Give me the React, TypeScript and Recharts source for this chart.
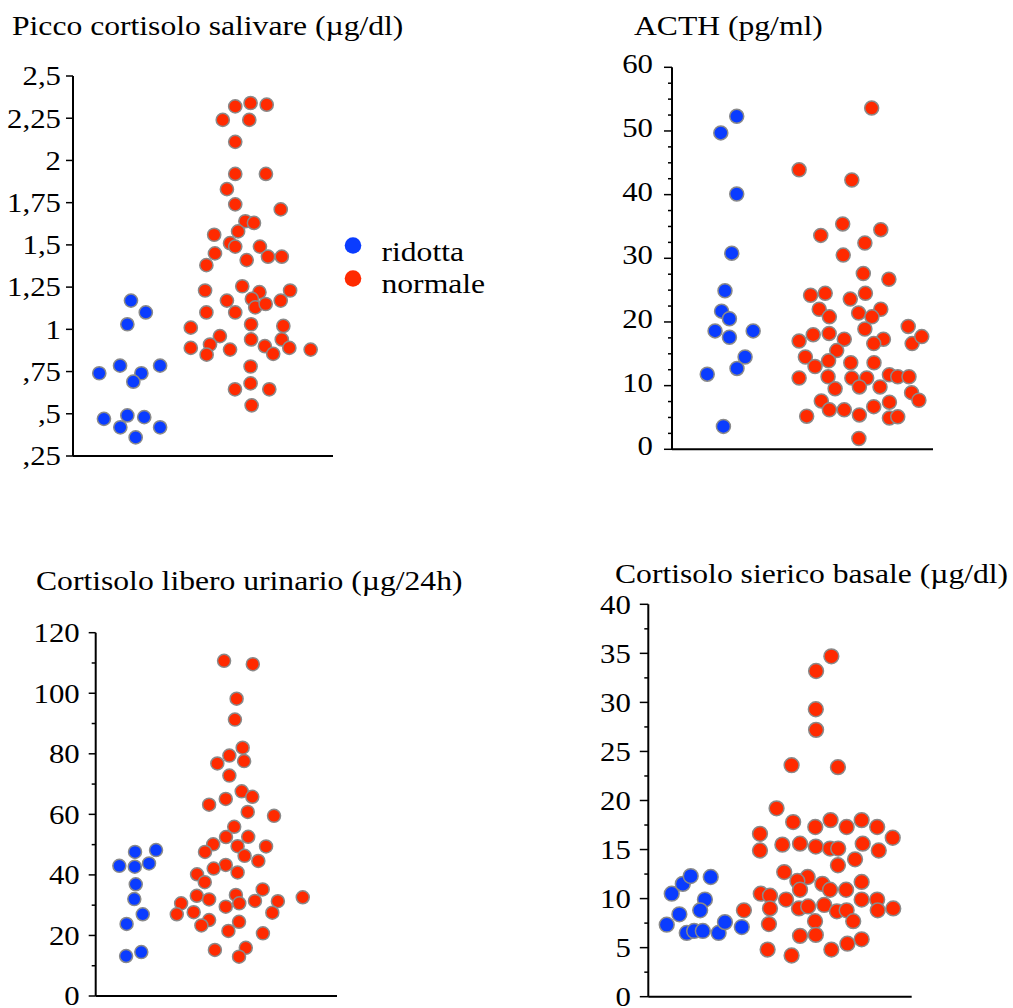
import React from "react";
import { ScatterChart, Scatter, XAxis, YAxis } from "recharts";

// [jitter position 0-100 along the x axis, value]
const salivaRidotta = [
  [22.3, 1.17], [28.0, 1.1], [20.9, 1.03], [10.1, 0.74], [18.1, 0.785], [26.3, 0.74], [23.2, 0.69],
  [33.5, 0.785], [11.9, 0.47], [20.9, 0.49], [27.4, 0.48], [18.2, 0.42], [33.5, 0.42], [24.1, 0.36],
];
const salivaNormale = [
  [62.4, 2.32], [68.3, 2.34], [74.5, 2.33], [57.6, 2.24], [67.8, 2.24], [62.4, 2.11], [62.4, 1.92],
  [74.2, 1.92], [59.2, 1.83], [62.4, 1.74], [79.9, 1.71], [66.3, 1.64], [69.6, 1.63], [63.5, 1.58],
  [54.3, 1.56], [60.4, 1.51], [62.4, 1.49], [71.9, 1.49], [54.6, 1.45], [75, 1.43], [80.3, 1.43],
  [66.8, 1.41], [51.3, 1.38], [50.8, 1.23], [65.1, 1.255], [71.7, 1.22], [83.5, 1.23], [59.2, 1.17],
  [68.8, 1.18], [70.1, 1.13], [74.1, 1.15], [79.9, 1.17], [51.3, 1.1], [62.4, 1.1], [45.3, 1.01],
  [68.5, 1.03], [80.9, 1.02], [56.5, 0.96], [68.5, 0.94], [80.3, 0.94], [45.3, 0.89], [52.7, 0.91],
  [60.4, 0.88], [73.8, 0.9], [83.2, 0.89], [91.4, 0.88], [51.4, 0.85], [77, 0.855], [68.3, 0.78],
  [68.3, 0.68], [62.3, 0.645], [75.5, 0.645], [68.7, 0.55],
];

const acthRidotta = [
  [24.8, 52.3], [18.7, 49.7], [24.8, 40.1], [22.9, 30.8], [20.3, 24.9], [19.0, 21.7], [22.0, 20.5],
  [16.5, 18.6], [31.1, 18.6], [22.0, 17.6], [28.0, 14.5], [24.9, 12.7], [13.5, 11.8], [19.7, 3.6],
];
const acthNormale = [
  [76.5, 53.6], [48.7, 43.9], [68.9, 42.3], [65.4, 35.4], [57.0, 33.6], [80.0, 34.5], [73.9, 32.4],
  [65.6, 30.5], [73.3, 27.6], [83.1, 26.7], [53.1, 24.2], [58.7, 24.5], [74.1, 24.5], [68.3, 23.6],
  [56.4, 22.0], [80.0, 22.0], [71.5, 21.4], [60.3, 20.8], [76.6, 20.8], [73.9, 18.9], [90.5, 19.3],
  [54.1, 18.0], [60.2, 18.2], [48.7, 17.0], [66.0, 17.3], [81.0, 17.3], [77.3, 16.6], [92.0, 16.6],
  [95.7, 17.7], [63.1, 15.5], [51.1, 14.5], [60.0, 13.9], [68.5, 13.6], [77.4, 13.6], [54.8, 13.0],
  [48.7, 11.2], [59.8, 11.4], [68.9, 11.2], [74.6, 11.2], [83.3, 11.7], [86.5, 11.4], [90.8, 11.4],
  [62.5, 9.5], [71.8, 9.8], [79.7, 9.8], [91.8, 8.9], [57.2, 7.6], [83.3, 7.4], [94.6, 7.7],
  [60.3, 6.2], [66.0, 6.2], [77.3, 6.7], [51.6, 5.2], [71.8, 5.4], [83.3, 4.9], [86.5, 5.1], [71.6, 1.7],
];

const urinarioRidotta = [
  [16.3, 47.6], [25.0, 48.2], [9.8, 43.0], [16.2, 42.7], [22.1, 43.8], [16.6, 36.9], [16.0, 32.0],
  [19.5, 27.0], [12.8, 23.8], [12.6, 13.2], [18.9, 14.5],
];
const urinarioNormale = [
  [53.2, 110.7], [65.1, 109.6], [58.4, 98.2], [57.7, 91.3], [60.9, 82.0], [55.4, 79.4], [50.4, 76.8],
  [61.5, 77.6], [55.4, 72.8], [60.5, 67.6], [53.9, 65.1], [64.9, 65.8], [47.0, 63.2], [63.0, 60.8],
  [73.9, 59.5], [57.4, 55.9], [54.0, 52.5], [63.2, 52.6], [48.7, 50.1], [58.8, 49.5], [70.6, 49.4],
  [45.3, 47.6], [61.7, 46.3], [67.4, 44.6], [53.9, 43.3], [48.9, 42.1], [58.8, 40.8], [42.0, 40.2],
  [45.2, 37.6], [69.2, 35.2], [41.9, 33.1], [58.1, 33.4], [85.8, 32.6], [47.0, 31.9], [66.0, 31.4],
  [75.5, 31.3], [35.4, 30.6], [59.5, 30.6], [53.9, 29.5], [33.6, 27.0], [40.6, 27.7], [73.2, 27.5],
  [47.0, 25.1], [59.4, 24.5], [43.8, 23.3], [55.0, 21.5], [69.3, 20.7], [49.4, 15.2], [62.2, 15.9],
  [59.4, 13.0],
];

const siericoRidotta = [
  [7.0, 7.34], [8.9, 10.5], [13.1, 11.5], [16.1, 12.3], [23.7, 12.2], [11.8, 8.4], [21.5, 9.9],
  [19.7, 8.8], [14.6, 6.5], [17.4, 6.7], [20.7, 6.7], [26.7, 6.5], [29.1, 7.6], [35.5, 7.1],
];
const siericoNormale = [
  [69.5, 34.7], [63.7, 33.2], [63.6, 29.3], [63.7, 27.2], [54.4, 23.6], [72.0, 23.4], [48.7, 19.2],
  [55.0, 17.8], [63.4, 17.3], [69.2, 18.0], [75.3, 17.3], [81.0, 18.0], [86.9, 17.3], [42.4, 16.6],
  [92.8, 16.2], [50.9, 15.5], [57.6, 15.6], [63.6, 15.3], [69.0, 15.1], [72.1, 15.1], [81.4, 15.6],
  [42.4, 14.9], [87.5, 14.9], [78.5, 14.0], [72.0, 13.4], [51.6, 12.7], [60.5, 12.2], [56.6, 11.8],
  [66.1, 11.5], [81.0, 11.7], [57.6, 10.9], [69.0, 10.9], [75.1, 10.9], [42.7, 10.5], [46.2, 10.3],
  [52.3, 9.9], [81.0, 9.9], [86.9, 9.9], [36.3, 8.8], [46.2, 9.0], [57.2, 9.0], [60.7, 9.2],
  [66.8, 9.35], [71.6, 8.7], [75.3, 8.8], [87.1, 8.8], [93.0, 9.0], [63.3, 7.7], [77.8, 7.7],
  [45.8, 7.4], [57.6, 6.2], [63.6, 6.3], [81.0, 5.85], [75.6, 5.4], [45.3, 4.8], [69.5, 4.8], [54.4, 4.2],
];

// tick values (all) and labelled ones
const salivaTicks = [0.25, 0.5, 0.75, 1, 1.25, 1.5, 1.75, 2, 2.25, 2.5];
const acthTicks = [0, 2.5, 5, 7.5, 10, 12.5, 15, 17.5, 20, 22.5, 25, 27.5, 30, 32.5, 35, 37.5, 40, 42.5, 45, 47.5, 50, 52.5, 55, 57.5, 60];
const acthLabels = [0, 10, 20, 30, 40, 50, 60];
const urinarioTicks = [0, 10, 20, 30, 40, 50, 60, 70, 80, 90, 100, 110, 120];
const urinarioLabels = [0, 20, 40, 60, 80, 100, 120];
const siericoTicks = [0, 2.5, 5, 7.5, 10, 12.5, 15, 17.5, 20, 22.5, 25, 27.5, 30, 32.5, 35, 37.5, 40];
const siericoLabels = [0, 5, 10, 15, 20, 25, 30, 35, 40];

const titles = [
  { text: "Picco cortisolo salivare (µg/dl)", x: 12, y: 35 },
  { text: "ACTH (pg/ml)", x: 634, y: 35 },
  { text: "Cortisolo libero urinario (µg/24h)", x: 36, y: 590 },
  { text: "Cortisolo sierico basale (µg/dl)", x: 615, y: 583 },
];

const BLUE = "#0a3cff";
const RED = "#ff2a00";
const FONT = "'Liberation Serif', 'Times New Roman', serif";
const FS = 27.5;
const SX = 1.12;
const TITLE_SX = 1.15;

const toPoints = (arr: number[][]) => arr.map(([x, y]) => ({ x, y }));

const fmtComma = (v: number) => String(v).replace(".", ",").replace(/^0,/, ",");

const makeTick =
  (labels: number[] | null, gap: number, majorLen: number, dy: string, fmt: (v: number) => string) =>
  (props: any) => {
    const { x, y, payload } = props;
    const v = payload.value;
    const major = labels === null || labels.includes(v);
    const len = major ? majorLen : 4;
    return (
      <g>
        <line x1={x - len} x2={x} y1={y} y2={y} stroke="#000" strokeWidth={1.5} />
        {major && (
          <text
            transform={`translate(${x - gap},${y}) scale(${SX},1)`}
            textAnchor="end"
            dy={dy}
            fontFamily={FONT}
            fontSize={FS}
            fill="#000"
          >
            {fmt(v)}
          </text>
        )}
      </g>
    );
  };

const dot = (fill: string, r: number) => (p: any) =>
  <circle cx={p.cx} cy={p.cy} r={r} fill={fill} stroke="#8a8a8a" strokeWidth={1.5} />;

interface PanelProps {
  left: number;
  top: number;
  width: number;
  height: number;
  marginTop: number;
  axisWidth: number;
  domain: [number, number];
  ticks: number[];
  tick: (p: any) => React.ReactElement;
  ridotta: number[][];
  normale: number[][];
  r: number;
}

// x axis gets 20px of room so the bottom tick labels are not clipped
const Panel = (p: PanelProps) => (
  <div style={{ position: "absolute", left: p.left, top: p.top }}>
    <ScatterChart width={p.width} height={p.height + 10} margin={{ top: p.marginTop, right: 10, left: 0, bottom: 0 }}>
      <XAxis
        type="number"
        dataKey="x"
        domain={[0, 100]}
        tick={false}
        tickLine={false}
        height={20}
        axisLine={{ stroke: "#000", strokeWidth: 2 }}
      />
      <YAxis
        type="number"
        dataKey="y"
        domain={p.domain}
        ticks={p.ticks}
        interval={0}
        width={p.axisWidth}
        tickSize={0}
        tickMargin={0}
        tickLine={false}
        tick={p.tick}
        axisLine={{ stroke: "#000", strokeWidth: 2 }}
      />
      <Scatter data={toPoints(p.ridotta)} shape={dot(BLUE, p.r)} isAnimationActive={false} />
      <Scatter data={toPoints(p.normale)} shape={dot(RED, p.r)} isAnimationActive={false} />
    </ScatterChart>
  </div>
);

export default function App() {
  return (
    <div style={{ position: "absolute", left: 0, top: 0, width: 1013, height: 1008, overflow: "hidden", background: "#fff" }}>
      <Panel
        left={0} top={40} width={343} height={426} marginTop={36} axisWidth={73}
        domain={[0.25, 2.5]} ticks={salivaTicks}
        tick={makeTick(null, 12, 7, "0.34em", fmtComma)}
        ridotta={salivaRidotta} normale={salivaNormale} r={6.6}
      />
      <Panel
        left={560} top={40} width={383} height={419.3} marginTop={27.3} axisWidth={112}
        domain={[0, 60]} ticks={acthTicks}
        tick={makeTick(acthLabels, 19, 8, "0.22em", String)}
        ridotta={acthRidotta} normale={acthNormale} r={7}
      />
      <Panel
        left={0} top={600} width={347} height={406} marginTop={32.7} axisWidth={95.7}
        domain={[0, 120]} ticks={urinarioTicks}
        tick={makeTick(urinarioLabels, 16, 7, "0.34em", String)}
        ridotta={urinarioRidotta} normale={urinarioNormale} r={6.5}
      />
      <Panel
        left={560} top={580} width={361.7} height={426.7} marginTop={24.3} axisWidth={88.3}
        domain={[0, 40]} ticks={siericoTicks}
        tick={makeTick(siericoLabels, 17.5, 8.5, "0.34em", String)}
        ridotta={siericoRidotta} normale={siericoNormale} r={7.4}
      />
      <svg width={1013} height={1008} style={{ position: "absolute", left: 0, top: 0, pointerEvents: "none" }}>
        {titles.map((t) => (
          <text key={t.text} transform={`translate(${t.x},${t.y}) scale(${TITLE_SX},1)`} fontFamily={FONT} fontSize={FS} fill="#000">
            {t.text}
          </text>
        ))}
        <circle cx={353} cy={245.5} r={8.3} fill={BLUE} />
        <text transform={`translate(381.5,261) scale(${TITLE_SX},1)`} fontFamily={FONT} fontSize={FS} fill="#000">
          ridotta
        </text>
        <circle cx={353} cy={278.5} r={8.3} fill={RED} />
        <text transform={`translate(381.5,293) scale(${TITLE_SX},1)`} fontFamily={FONT} fontSize={FS} fill="#000">
          normale
        </text>
      </svg>
    </div>
  );
}
